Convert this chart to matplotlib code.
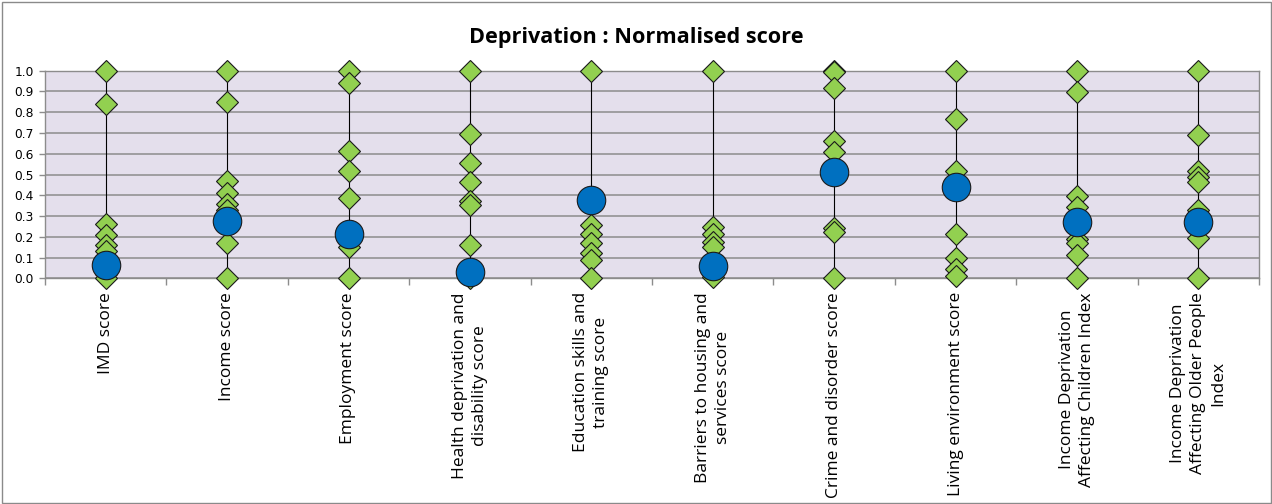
import matplotlib
matplotlib.use("Agg")
import matplotlib.pyplot as plt
from matplotlib.patches import Rectangle

categories = [
    "IMD score",
    "Income score",
    "Employment score",
    "Health deprivation and\ndisability score",
    "Education skills and\ntraining score",
    "Barriers to housing and\nservices score",
    "Crime and disorder score",
    "Living environment score",
    "Income Deprivation\nAffecting Children Index",
    "Income Deprivation\nAffecting Older People\nIndex",
]

# normalised scores of the comparison areas (green diamonds)
imd_vals = [1.0, 0.84, 0.26, 0.21, 0.16, 0.13, 0.02, 0.0]
income_vals = [1.0, 0.85, 0.47, 0.41, 0.36, 0.33, 0.17, 0.0]
employment_vals = [1.0, 0.94, 0.615, 0.515, 0.385, 0.15, 0.0]
health_vals = [1.0, 0.695, 0.555, 0.465, 0.37, 0.355, 0.16, 0.0]
education_vals = [1.0, 0.255, 0.215, 0.17, 0.12, 0.09, 0.0]
barriers_vals = [1.0, 0.245, 0.215, 0.175, 0.15, 0.005]
crime_vals = [1.0, 0.995, 0.915, 0.66, 0.61, 0.24, 0.225, 0.0]
living_vals = [1.0, 0.765, 0.515, 0.215, 0.1, 0.045, 0.01]
idaci_vals = [1.0, 0.895, 0.395, 0.345, 0.19, 0.17, 0.11, 0.0]
idaopi_vals = [1.0, 0.69, 0.515, 0.49, 0.465, 0.33, 0.195, 0.0]

# normalised score of the highlighted area (blue circles)
highlight = [0.065, 0.275, 0.215, 0.03, 0.375, 0.06, 0.51, 0.44, 0.27, 0.27]

yticks = [0.0, 0.1, 0.2, 0.3, 0.4, 0.5, 0.6, 0.7, 0.8, 0.9, 1.0]
title = "Deprivation : Normalised score"

series = [imd_vals, income_vals, employment_vals, health_vals, education_vals,
          barriers_vals, crime_vals, living_vals, idaci_vals, idaopi_vals]

W, H = 1272, 504
fig = plt.figure(figsize=(W / 100, H / 100), dpi=100)
fig.patch.set_facecolor("white")
fig.patches.append(Rectangle((1.5 / W, 1.5 / H), 1 - 3 / W, 1 - 3 / H,
                             transform=fig.transFigure, fill=False,
                             edgecolor="#8a8a8a", lw=1.0))

left, right, top, bottom = 45, 1259, 70.7, 278.3
ax = fig.add_axes([left / W, 1 - bottom / H, (right - left) / W, (bottom - top) / H])
ax.set_facecolor("#E4DFEC")
ax.set_xlim(-0.5, len(categories) - 0.5)
ax.set_ylim(0, 1.0)

grid_color = "#8c8c8c"
for y in yticks:
    ax.axhline(y, color=grid_color, lw=1.1, zorder=1)

for i, vals in enumerate(series):
    ax.vlines(i, min(vals + [highlight[i]]), max(vals + [highlight[i]]),
              color="black", lw=0.8, zorder=2)
    ax.plot([i] * len(vals), vals, linestyle="none", marker="D", ms=11,
            mfc="#92D050", mec="#1a1a1a", mew=0.8, zorder=3, clip_on=False)

ax.plot(range(len(highlight)), highlight, linestyle="none", marker="o", ms=20.5,
        mfc="#0070C0", mec="#1a1a1a", mew=0.8, zorder=4, clip_on=False)

for s in ax.spines.values():
    s.set_color(grid_color)
    s.set_linewidth(1.0)

ax.set_yticks(yticks)
ax.set_yticklabels([f"{v:.1f}" for v in yticks], fontsize=8.8,
                   fontfamily="DejaVu Sans")
ax.tick_params(axis="y", length=4, width=1.0, color=grid_color, pad=4)

ax.set_xticks(range(len(categories)))
ax.set_xticklabels(categories, rotation=90, fontsize=12.5, fontfamily="Open Sans",
                   va="top", ha="center", multialignment="center",
                   linespacing=1.35)
ax.tick_params(axis="x", which="major", length=0, pad=10)
ax.set_xticks([i - 0.5 for i in range(len(categories) + 1)], minor=True)
ax.tick_params(axis="x", which="minor", length=5, width=1.0, color=grid_color,
               direction="out")

fig.text(0.5, 1 - 37 / H, title, ha="center", va="center",
         fontsize=15.6, fontweight="bold", fontfamily="Open Sans")

fig.savefig("out.png", dpi=100)
